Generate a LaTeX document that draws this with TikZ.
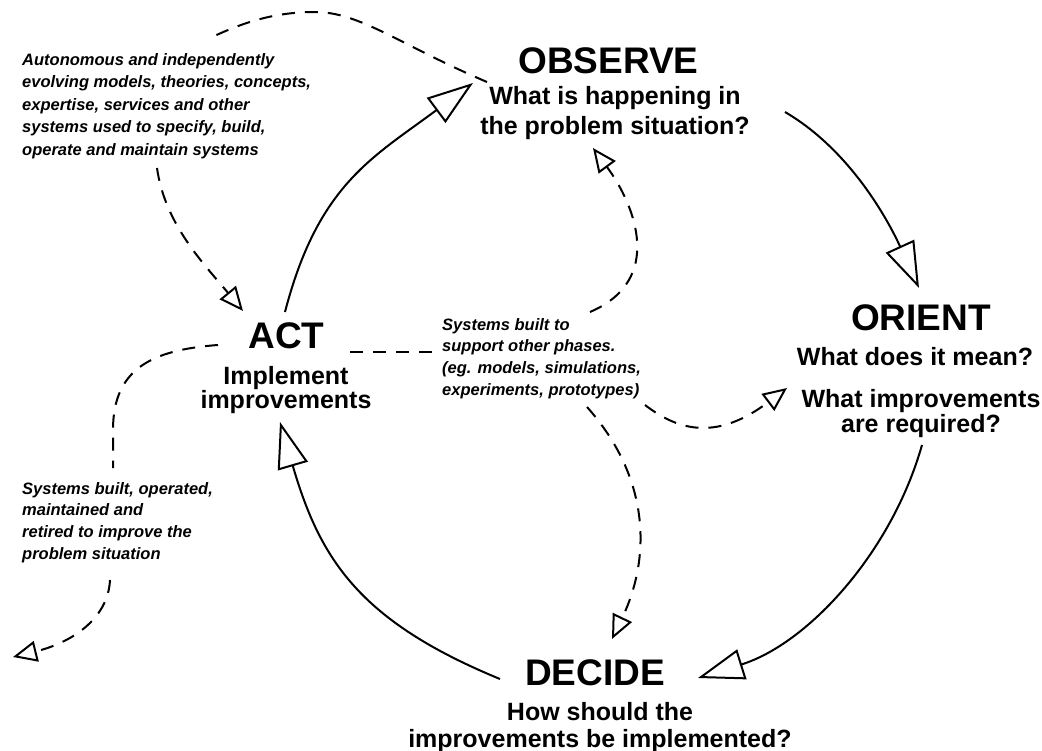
\documentclass[tikz,border=0pt]{standalone}
\usepackage{fontspec}
\setmainfont{Liberation Sans}
\newfontfamily\notefont{Liberation Sans}[UprightFont={* Bold Italic}]
\usetikzlibrary{arrows.meta}
\begin{document}
\begin{tikzpicture}[x=1pt,y=-1pt,
  title/.style={font=\fontsize{37}{44}\selectfont\bfseries, inner sep=0pt, anchor=north},
  sub/.style={font=\fontsize{25}{30}\selectfont\bfseries, inner sep=0pt, anchor=north, align=center},
  note/.style={font=\notefont\fontsize{16.5}{22.5}\selectfont, inner sep=0pt, anchor=north west, align=left},
  flow/.style={line width=2pt, -{Triangle[open,length=46pt,width=31pt]}},
  feed/.style={line width=2pt, dash pattern=on 13pt off 10pt, -{Triangle[open,length=24pt,width=21pt]}},
  link/.style={line width=2pt, dash pattern=on 13pt off 10pt},
]
\fill[white] (0,0) rectangle (1042,751);
\useasboundingbox (0,0) rectangle (1042,751);

% phase titles and questions
\node[title] (observe) at (608.5,47) {OBSERVE};
\node[sub] (observeQ) at (615,86) {What is happening in\\the problem situation?};
\node[title] (orient) at (921,304) {ORIENT};
\node[sub] (orientQa) at (915,347) {What does it mean?};
\node[sub, font=\fontsize{25}{25}\selectfont\bfseries] (orientQb) at (921,389) {What improvements\\are required?};
\node[title] (decide) at (595,659) {DECIDE};
\node[sub, font=\fontsize{25}{27}\selectfont\bfseries] (decideQ) at (600,702) {How should the\\improvements be implemented?};
\node[title] (act) at (286.5,322) {ACT};
\node[sub, font=\fontsize{25}{24}\selectfont\bfseries] (actQ) at (286,366) {Implement\\improvements};

% notes
\node[note] (tlNote) at (22,53) {Autonomous and independently\\evolving models, theories, concepts,\\expertise, services and other\\systems used to specify, build,\\operate and maintain systems};
\node[note, font=\notefont\fontsize{16.5}{21.7}\selectfont] (midNote) at (442,318) {Systems built to\\support other phases.\\(eg. models, simulations,\\experiments, prototypes)};
\node[note, font=\notefont\fontsize{16.5}{21.7}\selectfont] (blNote) at (22,482) {Systems built, operated,\\maintained and\\retired to improve the\\problem situation};

% connector end points
\coordinate (actTop) at (285,312);
\coordinate (obsTip) at (473,83);
\coordinate (obsRight) at (785,112);
\coordinate (oriTip) at (919,288);
\coordinate (oriBottom) at (922,445);
\coordinate (decTip) at (698,678);
\coordinate (decLeft) at (500,679);
\coordinate (actTip) at (280,422);

\coordinate (obsLeft) at (487,82);
\coordinate (topArc) at (315,12);
\coordinate (tlTop) at (210,38);
\coordinate (tlBottom) at (157,168);
\coordinate (actIn) at (243,311);
\coordinate (actLeft) at (218,345);
\coordinate (leftBend) at (113,430);
\coordinate (blTop) at (113,468);
\coordinate (blBottom) at (110,580);
\coordinate (outTip) at (13,657);
\coordinate (actRight) at (350,352);
\coordinate (midLeft) at (433,352);
\coordinate (midTop) at (590,312);
\coordinate (obsIn) at (593,148);
\coordinate (midRight) at (645,405);
\coordinate (oriIn) at (787,388);
\coordinate (midBottom) at (587,407);
\coordinate (decIn) at (612,639);

% main cycle
\draw[flow] (actTop) .. controls (318,185) and (372,158) .. (obsTip);
\draw[flow] (obsRight) .. controls (850,150) and (888,220) .. (oriTip);
\draw[flow] (oriBottom) .. controls (891,554) and (807,644) .. (decTip);
\draw[flow] (decLeft) .. controls (359,621) and (320,559) .. (actTip);

% dashed links
\draw[link] (obsLeft) .. controls (400,45) and (360,12) .. (topArc) .. controls (270,12) and (238,25) .. (tlTop);
\draw[feed] (tlBottom) .. controls (165,225) and (205,265) .. (actIn);
\draw[link] (actLeft) .. controls (150,350) and (113,370) .. (leftBend) -- (blTop);
\draw[feed] (blBottom) .. controls (108,620) and (70,643) .. (outTip);
\draw[link] (actRight) -- (midLeft);
\draw[feed] (midTop) .. controls (665,280) and (635,205) .. (obsIn);
\draw[feed] (midRight) .. controls (680,432) and (718,440) .. (oriIn);
\draw[feed] (midBottom) .. controls (652,480) and (650,560) .. (decIn);
\end{tikzpicture}
\end{document}
